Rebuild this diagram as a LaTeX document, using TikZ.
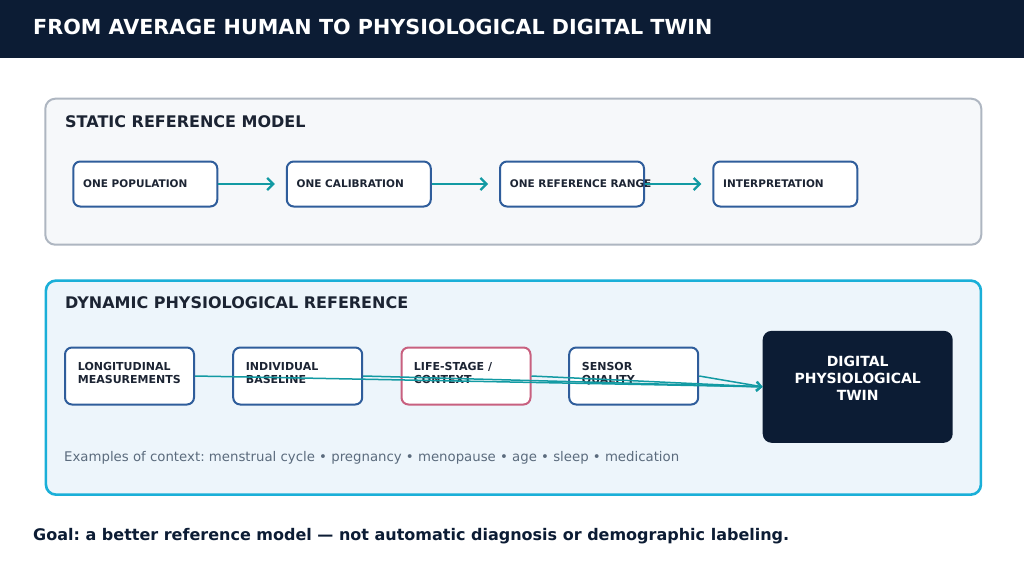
\documentclass[tikz,border=0pt]{standalone}
\usepackage{fontspec}
\setmainfont{DejaVu Sans}
\usetikzlibrary{arrows.meta}
\definecolor{navy}{HTML}{0C1C34}
\definecolor{staticfill}{HTML}{F6F8FA}
\definecolor{staticdraw}{HTML}{AEB6C1}
\definecolor{dynfill}{HTML}{EDF5FB}
\definecolor{dyndraw}{HTML}{1AAFD8}
\definecolor{boxblue}{HTML}{2F5D9B}
\definecolor{boxpink}{HTML}{C8607F}
\definecolor{teal}{HTML}{129AA3}
\definecolor{darktext}{HTML}{1C2433}
\definecolor{graytext}{HTML}{5B6B7D}
\tikzset{
  panelstatic/.style={draw=staticdraw, fill=staticfill, line width=2pt, rounded corners=10pt, inner sep=0pt, anchor=north west},
  paneldyn/.style={draw=dyndraw, fill=dynfill, line width=2.6pt, rounded corners=10pt, inner sep=0pt, anchor=north west},
  heading/.style={anchor=base west, inner sep=0pt, text=darktext, font=\bfseries\fontsize{16}{19}\selectfont},
  topbox/.style={draw=boxblue, fill=white, line width=2pt, rounded corners=7pt, minimum width=144pt, minimum height=45pt, inner sep=0pt},
  boxtext/.style={anchor=base west, inner sep=0pt, text=darktext, font=\bfseries\fontsize{10.5}{13}\selectfont, align=left},
  bottext/.style={anchor=base west, inner sep=0pt, text=darktext, font=\bfseries\fontsize{11}{13.3}\selectfont, align=left},
  botbox/.style={draw=boxblue, fill=white, line width=2pt, rounded corners=7pt, minimum width=129pt, minimum height=57pt, inner sep=0pt},
  flowarrow/.style={draw=teal, line width=2.3pt, -{Straight Barb[length=6pt,width=12pt,line width=2.3pt]}},
  feedarrow/.style={draw=teal, line width=1.5pt, -{Straight Barb[length=5pt,width=9pt,line width=1.5pt]}},
}
\begin{document}
\frenchspacing
\begin{tikzpicture}[x=1pt,y=-1pt]
\useasboundingbox (0,0) rectangle (1024,576);
\fill[white] (0,0) rectangle (1024,576);
% title bar
\node[fill=navy, minimum width=1024pt, minimum height=58pt, inner sep=0pt, anchor=north west] (bar) at (0,0) {};
\node[anchor=base west, inner sep=0pt, text=white, font=\bfseries\fontsize{20.7}{24}\selectfont] (title) at (33,34.5) {FROM AVERAGE HUMAN TO PHYSIOLOGICAL DIGITAL TWIN};
% static panel
\node[panelstatic, minimum width=936pt, minimum height=146pt] (static) at (44.3,97.7) {};
\node[heading] (statich) at (65,127.7) {STATIC REFERENCE MODEL};
\node[topbox] (s1) at (145.3,184) {};
\node[topbox] (s2) at (358.8,184) {};
\node[topbox] (s3) at (572,184) {};
\node[topbox] (s4) at (785.3,184) {};
\node[boxtext] (s1t) at (83,187.6) {ONE POPULATION};
\node[boxtext] (s2t) at (296.5,187.6) {ONE CALIBRATION};
\node[boxtext] (s3t) at (509.7,187.6) {ONE REFERENCE RANGE};
\node[boxtext] (s4t) at (723,187.6) {INTERPRETATION};
\draw[flowarrow, shorten >=11pt] (s1.east) -- (s2.west);
\draw[flowarrow, shorten >=11pt] (s2.east) -- (s3.west);
\draw[flowarrow, shorten >=11pt] (s3.east) -- (s4.west);
% dynamic panel
\node[paneldyn, minimum width=935pt, minimum height=214pt] (dyn) at (44.6,279.3) {};
\node[heading] (dynh) at (65,308.7) {DYNAMIC PHYSIOLOGICAL REFERENCE};
\node[botbox] (b1) at (129.5,376) {};
\node[botbox] (b2) at (297.7,376) {};
\node[botbox, draw=boxpink] (b3) at (466,376) {};
\node[botbox] (b4) at (633.7,376) {};
\node[bottext] (b1t) at (77.7,383.3) {LONGITUDINAL\\MEASUREMENTS};
\node[bottext] (b2t) at (245.7,383.3) {INDIVIDUAL\\BASELINE};
\node[bottext] (b3t) at (413.7,383.3) {LIFE-STAGE /\\CONTEXT};
\node[bottext] (b4t) at (581.7,383.3) {SENSOR\\QUALITY};
\node[fill=navy, rounded corners=9pt, minimum width=190pt, minimum height=112pt, inner sep=0pt] (twin) at (857.7,386.8) {};
\node[anchor=base, inner sep=0pt, text=white, font=\bfseries\fontsize{14}{17}\selectfont, align=center] (twint) at (857.7,400) {DIGITAL\\PHYSIOLOGICAL\\TWIN};
\draw[feedarrow] (b1.east) -- (twin.west);
\draw[feedarrow] (b2.east) -- (twin.west);
\draw[feedarrow] (b3.east) -- (twin.west);
\draw[feedarrow] (b4.east) -- (twin.west);
\node[anchor=base west, inner sep=0pt, text=graytext, font=\fontsize{13.3}{16}\selectfont] (examples) at (64,461) {Examples of context: menstrual cycle • pregnancy • menopause • age • sleep • medication};
% goal
\node[anchor=base west, inner sep=0pt, text=navy, font=\bfseries\fontsize{16}{19}\selectfont] (goal) at (33,540.5) {Goal: a better reference model — not automatic diagnosis or demographic labeling.};
\end{tikzpicture}
\end{document}
